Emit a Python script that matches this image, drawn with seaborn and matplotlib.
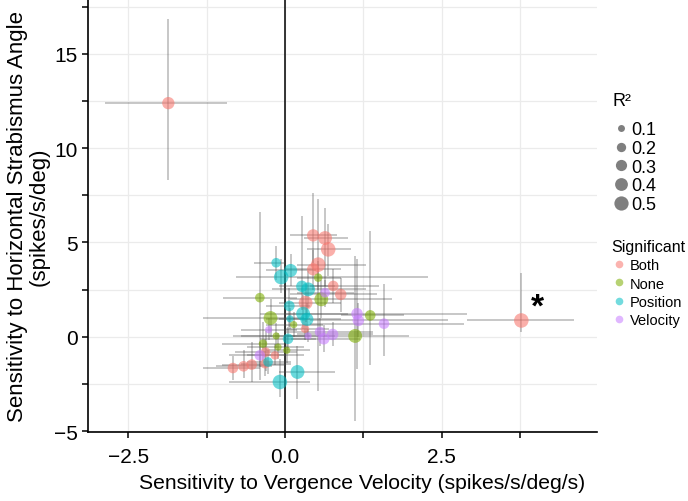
import numpy as np
import pandas as pd
import matplotlib
matplotlib.use("Agg")
import matplotlib.pyplot as plt
import seaborn as sns
from matplotlib.lines import Line2D

# ---- data ----
vel = [-1.86, 3.77, 0.45, 0.64, 0.69, 0.53, 0.45, 0.77, 0.89, 0.33, 0.32, -0.31, -0.16, -0.83, -0.66, -0.53, -0.32,
       -0.14, 0.09, -0.06, 0.27, 0.37, 0.07, 0.29, 0.35, 0.08, 0.05, -0.27, 0.20, -0.08,
       0.53, -0.40, 0.58, -0.23, 0.14, 1.36, 1.12, -0.35, -0.11, 0.03, -0.14,
       0.64, 1.15, 1.17, 1.58, 0.56, 0.76, 0.62, 0.37, -0.26, -0.40]
pos = [12.38, 0.86, 5.37, 5.23, 4.63, 3.82, 3.57, 2.69, 2.24, 1.80, 0.42, -0.81, -0.99, -1.66, -1.57, -1.48, -1.43,
       3.92, 3.51, 3.16, 2.67, 2.51, 1.63, 1.22, 0.92, 0.95, -0.11, -1.34, -1.87, -2.40,
       3.13, 2.07, 1.98, 0.99, 0.64, 1.13, 0.04, -0.37, -0.55, -0.72, 0.04,
       2.33, 1.22, 0.86, 0.69, 0.25, 0.12, -0.11, 0.04, 0.37, -0.99]
vel_lo = [-2.87, 2.90, 0.08, 0.30, 0.35, 0.20, 0.00, 0.40, 0.08, -0.10, 0.00, -0.80, -0.60, -1.30, -1.10, -1.00, -0.70,
          -0.49, -0.30, -0.78, -0.10, -0.20, -0.30, -0.40, -0.10, -0.30, -0.40, -0.60, -0.10, -0.90,
          0.20, -0.99, 0.08, -1.30, -0.30, 0.90, -0.83, -1.00, -0.60, -0.30, -0.70,
          0.20, 0.00, 0.40, 0.40, 0.00, 0.20, 0.10, 0.00, -0.70, -0.90]
vel_hi = [-0.92, 4.61, 0.83, 1.00, 1.05, 1.30, 0.90, 1.50, 1.47, 0.90, 0.70, 0.20, 0.30, -0.40, -0.20, 0.00, 0.10,
          0.00, 0.50, 2.28, 0.80, 1.30, 0.40, 1.00, 0.90, 0.40, 0.50, 0.10, 0.80, 0.40,
          0.90, 0.19, 1.70, 0.30, 0.60, 1.90, 1.98, 0.00, 0.30, 0.40, 0.40,
          1.10, 2.90, 2.60, 2.85, 1.40, 1.40, 1.20, 0.80, 0.20, 0.00]
pos_lo = [8.28, 0.25, 3.90, 2.70, 3.20, -2.90, 2.50, 1.80, 1.30, 0.80, -0.20, -1.80, -1.50, -2.30, -2.20, -2.40, -2.10,
          3.00, 2.70, 2.30, 1.40, 1.50, 0.50, 0.40, 0.10, 0.40, -0.70, -2.00, -3.30, -3.20,
          2.50, -2.30, 1.00, 0.00, 0.00, -1.50, -4.45, -1.30, -1.20, -1.40, -0.60,
          1.60, -1.70, 0.00, -1.00, -0.50, -0.50, -0.80, -0.30, -0.20, -1.60]
pos_hi = [16.85, 3.38, 7.60, 6.80, 6.00, 7.30, 4.60, 3.60, 3.10, 2.80, 1.00, 0.30, -0.40, -1.00, -0.70, -0.30, -0.10,
          4.80, 4.40, 4.10, 6.40, 3.50, 2.60, 2.20, 1.80, 1.50, 0.50, -0.70, -0.50, -1.20,
          4.00, 6.60, 3.00, 2.00, 1.30, 5.60, 4.30, 0.80, 0.20, 0.00, 0.70,
          3.00, 4.10, 1.80, 2.80, 1.00, 0.80, 0.60, 0.40, 1.00, -0.30]
r2 = [0.35, 0.50, 0.35, 0.45, 0.50, 0.50, 0.35, 0.25, 0.30, 0.45, 0.15, 0.20, 0.15, 0.25, 0.25, 0.25, 0.20,
      0.20, 0.40, 0.50, 0.30, 0.45, 0.25, 0.45, 0.40, 0.10, 0.25, 0.20, 0.45, 0.55,
      0.15, 0.20, 0.45, 0.45, 0.10, 0.25, 0.45, 0.15, 0.10, 0.10, 0.10,
      0.20, 0.30, 0.30, 0.25, 0.25, 0.30, 0.30, 0.10, 0.10, 0.25]
significant = (["Both"] * 17 + ["Position"] * 13 + ["None"] * 11 + ["Velocity"] * 10)

sig_levels = ["Both", "None", "Position", "Velocity"]
sig_colors = ["#F8766D", "#7CAE00", "#00BFC4", "#C77CFF"]
r2_levels = [0.1, 0.2, 0.3, 0.4, 0.5]
x_ticks = [-2.5, -1.25, 0.0, 1.25, 2.5, 3.75]
x_labels = ["\u22122.5", "", "0.0", "", "2.5", ""]
y_ticks = [-5, -2.5, 0, 2.5, 5, 7.5, 10, 12.5, 15, 17.5]
y_labels = ["\u22125", "", "0", "", "5", "", "10", "", "15", ""]

df = pd.DataFrame({"vel": vel, "pos": pos, "vel_lo": vel_lo, "vel_hi": vel_hi,
                   "pos_lo": pos_lo, "pos_hi": pos_hi, "R2": r2, "Significant": significant})

sns.set_theme(style="white")
plt.rcParams["font.family"] = ["Liberation Sans", "DejaVu Sans"]
plt.rcParams["text.color"] = "black"
plt.rcParams["axes.labelcolor"] = "black"
plt.rcParams["xtick.color"] = "black"
plt.rcParams["ytick.color"] = "black"

fig = plt.figure(figsize=(6.88, 5.02), dpi=100)
ax = fig.add_axes([0.128, 0.1375, 0.74, 0.8625])

ax.set_xlim(-3.14, 4.98)
ax.set_ylim(-5.05, 17.9)
ax.set_xticks(x_ticks)
ax.set_xticklabels(x_labels, fontsize=15)
ax.set_yticks(y_ticks)
ax.set_yticklabels(y_labels, fontsize=15)
ax.grid(True, color="#EBEBEB", lw=0.9, zorder=0)
ax.tick_params(axis="x", which="major", direction="out", length=4.5, width=1.1, pad=6, bottom=True)
ax.tick_params(axis="y", which="major", direction="out", length=4.5, width=1.1, pad=3, left=True)
for side in ["top", "right"]:
    ax.spines[side].set_visible(False)
for side in ["left", "bottom"]:
    ax.spines[side].set_color("black")
    ax.spines[side].set_linewidth(1.2)

ax.axvline(0, color="black", lw=1.1, zorder=1)

# error bars
ax.hlines(df["pos"], df["vel_lo"], df["vel_hi"], color="#4d4d4d", alpha=0.4, lw=1.1, zorder=2)
ax.vlines(df["vel"], df["pos_lo"], df["pos_hi"], color="#4d4d4d", alpha=0.4, lw=1.1, zorder=2)

sns.scatterplot(data=df, x="vel", y="pos", hue="Significant", hue_order=sig_levels,
                palette=sig_colors, size="R2", sizes=(27, 110), size_norm=(0.1, 0.5),
                alpha=0.58, edgecolor="none", linewidth=0, legend=False, ax=ax, zorder=3)

ax.text(4.03, 1.55, "*", fontsize=24, fontweight="bold", ha="center", va="center", color="black")

ax.set_xlabel("Sensitivity to Vergence Velocity (spikes/s/deg/s)", fontsize=15.2)
ax.xaxis.set_label_coords(0.538, -0.095)
ax.set_ylabel("Sensitivity to Horizontal Strabismus Angle\n(spikes/s/deg)", fontsize=16,
              labelpad=3, linespacing=1.05)

# legends
def s_for(v):
    return 25 + (v - 0.1) / 0.4 * (105 - 25)

size_handles = [Line2D([], [], marker="o", linestyle="none", markersize=np.sqrt(s_for(v)),
                       markerfacecolor="#7f7f7f", markeredgecolor="none") for v in r2_levels]
leg1 = fig.legend(size_handles, [f"{v:.1f}" for v in r2_levels], title="R\u00b2",
                  loc="upper left", bbox_to_anchor=(0.88, 0.83), frameon=False,
                  fontsize=13, title_fontsize=13, handletextpad=0.15, labelspacing=0.1,
                  borderaxespad=0, handlelength=0.9, alignment="left")
leg1._legend_box.sep = 9
color_handles = [Line2D([], [], marker="o", linestyle="none", markersize=5.5,
                        markerfacecolor=c, markeredgecolor="none", alpha=0.55) for c in sig_colors]
leg2 = fig.legend(color_handles, sig_levels, title="Significant",
                  loc="upper left", bbox_to_anchor=(0.88, 0.534), frameon=False,
                  fontsize=10.5, title_fontsize=11.5, handletextpad=0.3, labelspacing=0.3,
                  borderaxespad=0, handlelength=1.0, alignment="left")

fig.savefig("out.png", dpi=100)
